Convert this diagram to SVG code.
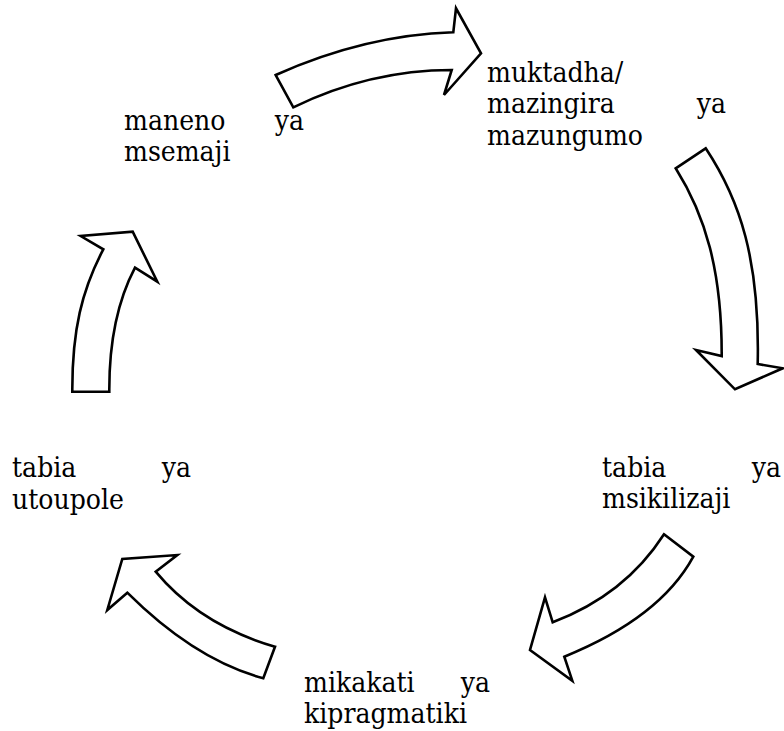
<svg xmlns="http://www.w3.org/2000/svg" width="784" height="731" viewBox="0 0 784 731">
<style>
.t{font-family:'DejaVu Serif Condensed','DejaVu Serif','Liberation Serif',serif;font-size:28px;fill:#000}
.r{text-anchor:end}
.arr{fill:#fff;stroke:#000;stroke-width:2.6;stroke-linejoin:miter}
</style>
<rect width="784" height="731" fill="#fff"/>
<g id="connectors">
<path class="arr" d="M275.7,75 Q365,35 453.3,32.3 L456,8.3 L481,53.3 L444,95 L451.7,70 Q370,70 293.3,107.3 Z"/>
<path class="arr" d="M675.7,168.3 L705.7,148.3 C740,200 760,260 757.7,364 L782.7,368.3 L735,389.3 L696,350 L721.7,356 C722,270 705,215 675.7,168.3 Z"/>
<path class="arr" d="M664,534.3 L693.3,556.7 Q660,618 564.3,656.7 L572.3,680.7 L530,650 L545,597.3 L552.7,622.3 Q625,595 664,534.3 Z"/>
<path class="arr" d="M275,646.7 L263.3,678.3 Q195,660 127.3,592.7 L107.3,610 L122.3,559 L177.3,555 L155.7,571.7 Q200,625 275,646.7 Z"/>
<path class="arr" d="M72.3,391.7 L109.3,391.7 C109,340 118,300 135,267.7 L157.3,281.7 L132.7,231.7 L80.7,236 L103.3,249.3 C82,290 72,330 72.3,391.7 Z"/>
</g>
<g id="node-maneno" class="t">
<text x="124" y="130">maneno</text>
<text class="r" x="304" y="130">ya</text>
<text x="124" y="161">msemaji</text>
</g>
<g id="node-muktadha" class="t">
<text x="487" y="82">muktadha/</text>
<text x="487" y="113">mazingira</text>
<text class="r" x="726" y="113">ya</text>
<text x="487" y="145">mazungumo</text>
</g>
<g id="node-msikilizaji" class="t">
<text x="602" y="477">tabia</text>
<text class="r" x="781" y="477">ya</text>
<text x="602" y="508">msikilizaji</text>
</g>
<g id="node-kipragmatiki" class="t">
<text x="304" y="692">mikakati</text>
<text class="r" x="490" y="692">ya</text>
<text x="304" y="723">kipragmatiki</text>
</g>
<g id="node-utoupole" class="t">
<text x="12" y="477">tabia</text>
<text class="r" x="191" y="477">ya</text>
<text x="12" y="509">utoupole</text>
</g>
</svg>
